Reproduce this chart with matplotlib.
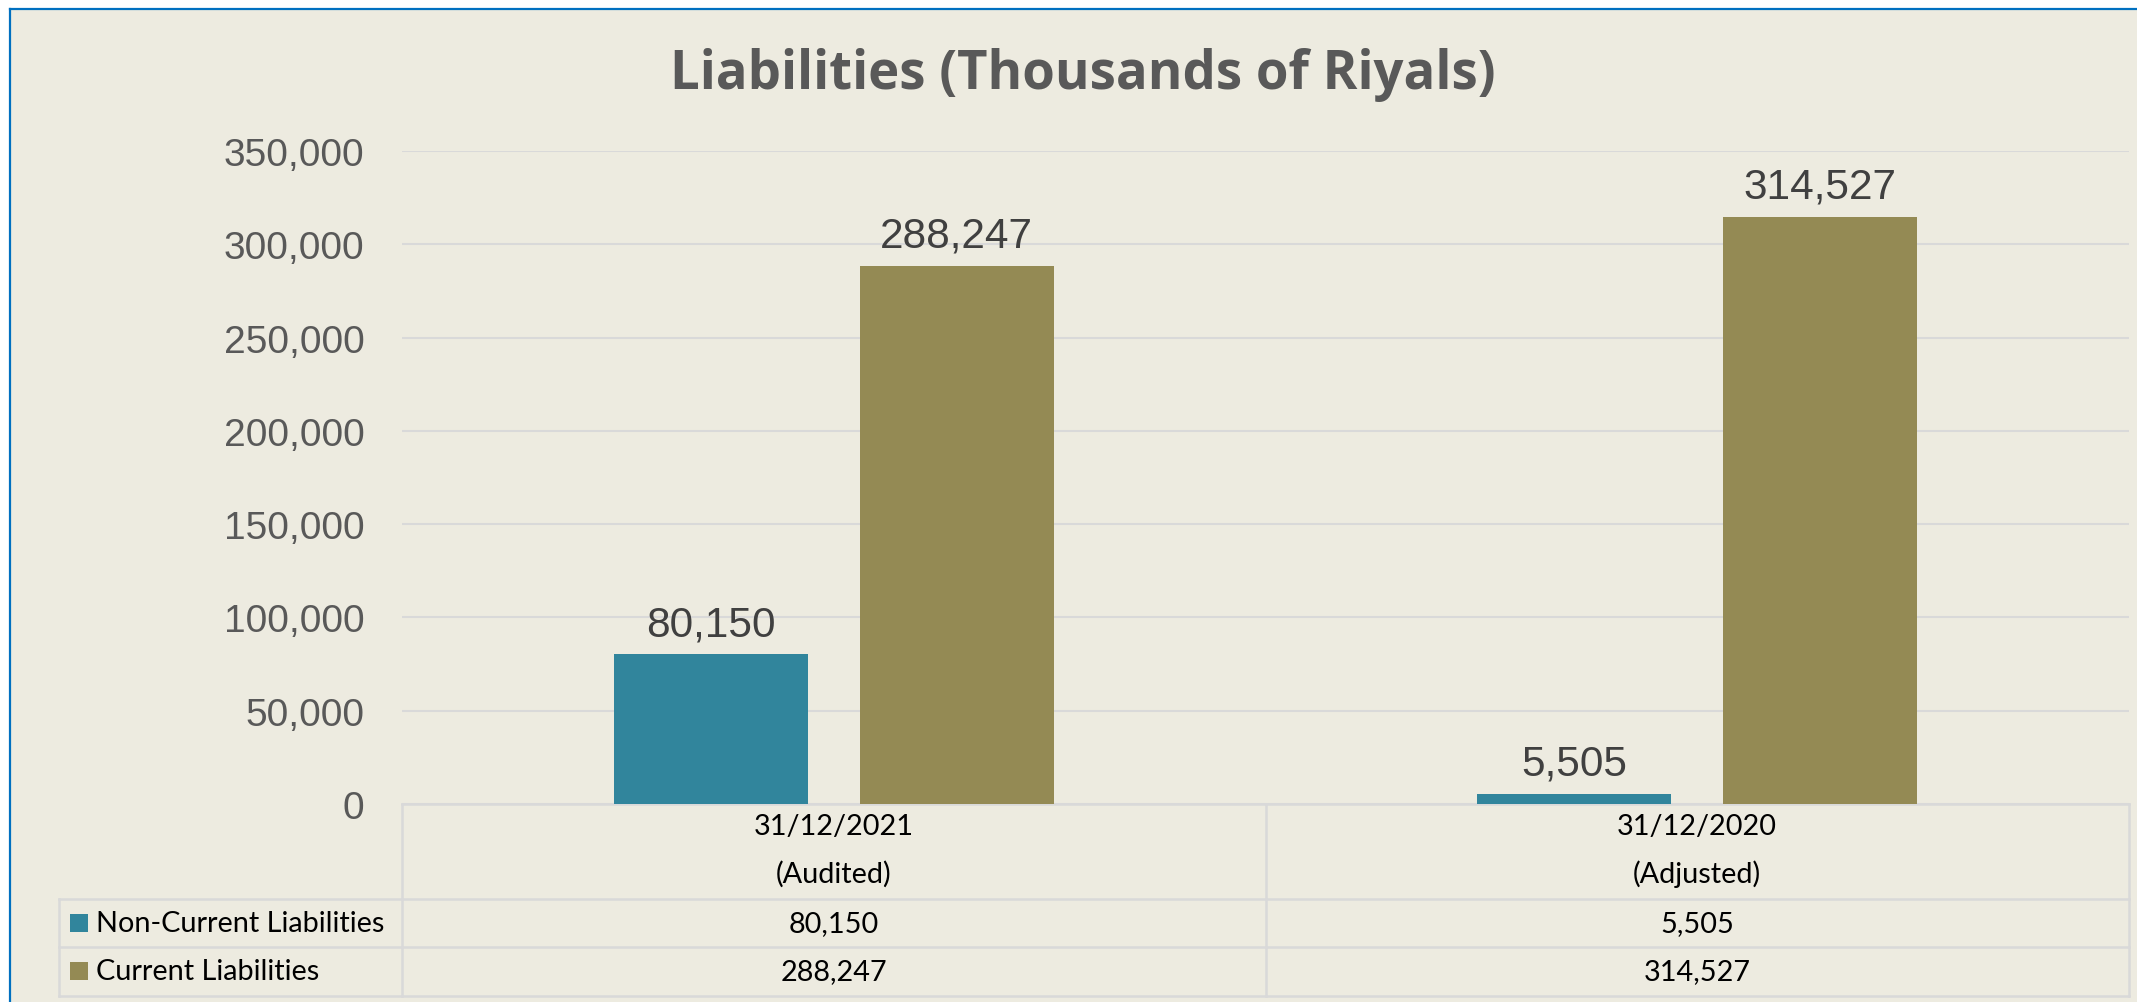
import matplotlib
matplotlib.use("Agg")
import matplotlib.pyplot as plt
from matplotlib.patches import Rectangle
from matplotlib.lines import Line2D
import numpy as np

# ---- data ----
categories = ["31/12/2021", "31/12/2020"]
category_notes = ["(Audited)", "(Adjusted)"]
series_names = ["Non-Current Liabilities", "Current Liabilities"]
non_current = [80150, 5505]
current = [288247, 314527]
y_ticks = [0, 50000, 100000, 150000, 200000, 250000, 300000, 350000]
title = "Liabilities (Thousands of Riyals)"

colors = ["#31859C", "#948A54"]
bg = "#EDEBE0"
grid_c = "#D9D9D9"

W, H = 2137, 1003
fig = plt.figure(figsize=(W / 100, H / 100), dpi=100)
fig.patch.set_facecolor("white")

# chart area background with blue border (top/left)
fig.patches.append(Rectangle((10 / W, 0), 1 - 10 / W, 1 - 10 / H, transform=fig.transFigure,
                             facecolor=bg, edgecolor="none", zorder=-10))
fig.lines.append(Line2D([10 / W, 1], [1 - 10 / H, 1 - 10 / H], transform=fig.transFigure,
                        color="#0070C0", lw=1.6, zorder=-5))
fig.lines.append(Line2D([10 / W, 10 / W], [0, 1 - 10 / H], transform=fig.transFigure,
                        color="#0070C0", lw=1.6, zorder=-5))

ax_l, ax_r, ax_t, ax_b = 402, 2129, 152, 805
ax = fig.add_axes([ax_l / W, 1 - ax_b / H, (ax_r - ax_l) / W, (ax_b - ax_t) / H])
ax.set_zorder(1)
ax.set_facecolor("none")
for s in ax.spines.values():
    s.set_visible(False)

x = np.arange(len(categories))
bw = 0.2247
off = 0.1424
vals = [non_current, current]
for i, (v, c) in enumerate(zip(vals, colors)):
    xs = x + (-off if i == 0 else off)
    ax.bar(xs, v, width=bw, color=c, zorder=3)
    for xi, vi in zip(xs, v):
        ax.annotate(f"{vi:,}", (xi, vi), xytext=(0, 14), textcoords="offset points",
                    ha="center", va="baseline", fontsize=30.5, color="#404040",
                    family="Liberation Sans")

ax.set_xlim(-0.5, len(categories) - 0.5)
ax.set_ylim(0, 350000)
ax.set_yticks(y_ticks)
ax.set_yticklabels([f"{t:,}" for t in y_ticks], family="Liberation Sans", fontsize=28,
                   color="#595959")
ax.tick_params(axis="y", length=0, pad=27)
ax.tick_params(axis="x", length=0, labelbottom=False)
ax.yaxis.grid(True, color=grid_c, lw=1.5, zorder=0)
ax.set_axisbelow(True)

# ---- data table ----
ah = ax_b - ax_t
aw = ax_r - ax_l
def fy(py):
    return -(py - ax_b) / ah
def fx(px):
    return (px - ax_l) / aw

rows_y = [805, 900, 948, 997]
lk = dict(color=grid_c, lw=1.8, transform=ax.transAxes, clip_on=False, zorder=1)
ax.add_line(Line2D([0, 1], [fy(805), fy(805)], **lk))
for py in rows_y[1:]:
    ax.add_line(Line2D([fx(59), 1], [fy(py), fy(py)], **lk))
ax.add_line(Line2D([0, 0], [fy(805), fy(997)], **lk))
ax.add_line(Line2D([1, 1], [fy(805), fy(997)], **lk))
ax.add_line(Line2D([fx(59), fx(59)], [fy(900), fy(997)], **lk))
tr = ax.get_xaxis_transform()
for k in range(1, len(categories)):
    ax.add_line(Line2D([k - 0.5, k - 0.5], [fy(805), fy(997)], color=grid_c, lw=1.8,
                       transform=tr, clip_on=False, zorder=1))

tfont = dict(family="Lato", fontsize=20.8, color="black")
for xi, cat, note in zip(x, categories, category_notes):
    ax.text(xi, fy(827), cat, transform=tr, ha="center", va="center", **tfont)
    ax.text(xi, fy(874), note, transform=tr, ha="center", va="center", **tfont)

row_centers = [924, 972]
for r, (name, v, c) in enumerate(zip(series_names, vals, colors)):
    yc = fy(row_centers[r])
    ax.add_patch(Rectangle((fx(70), yc - 9 / ah), 18 / aw, 18 / ah, transform=ax.transAxes,
                           facecolor=c, edgecolor="none", clip_on=False))
    ax.text(fx(96), yc, name, transform=ax.transAxes, ha="left", va="center", **tfont)
    for xi, vi in zip(x, v):
        ax.text(xi, yc, f"{vi:,}", transform=tr, ha="center", va="center", **tfont)

fig.text(0.5 + 14 / W, 1 - 75 / H, title, ha="center", va="center", family="Open Sans",
         fontweight="bold", fontsize=38, color="#595959")

fig.savefig("out.png", dpi=100, facecolor=fig.get_facecolor())
